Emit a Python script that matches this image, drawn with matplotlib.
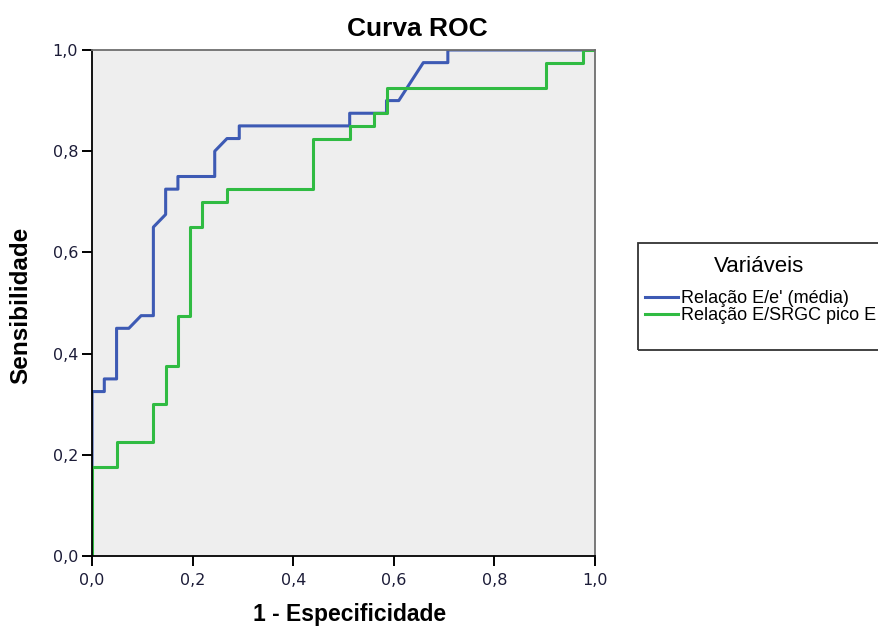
import numpy as np
import matplotlib.pyplot as plt
from matplotlib.patches import Rectangle
from matplotlib.ticker import FuncFormatter

# 41 negatives, 40 positives
n_neg = 41
n_pos = 40

# Relação E/e' (média): (false positives, true positives)
fp_blue = [0, 0, 1, 1, 2, 2, 3, 4, 5, 5, 6, 6, 7, 7, 10, 10, 11, 12, 12,
           21, 21, 24, 24, 25, 27, 29, 29, 41]
tp_blue = [0, 13, 13, 14, 14, 18, 18, 19, 19, 26, 27, 29, 29, 30, 30, 32, 33, 33, 34,
           34, 35, 35, 36, 36, 39, 39, 40, 40]

# Relação E/SRGC pico E
fp_green = [0, 0, 2, 2, 5, 5, 6, 6, 7, 7, 8, 8, 9, 9, 11, 11, 18, 18,
            21, 21, 23, 23, 24, 24, 37, 37, 40, 40, 41]
tp_green = [0, 7, 7, 9, 9, 12, 12, 15, 15, 19, 19, 26, 26, 28, 28, 29, 29, 33,
            33, 34, 34, 35, 35, 37, 37, 39, 39, 40, 40]

labels = ["Relação E/e' (média)", "Relação E/SRGC pico E"]
ticks = [0.0, 0.2, 0.4, 0.6, 0.8, 1.0]

arial = 'Liberation Sans'
W, H = 879, 628

fig = plt.figure(figsize=(8.79, 6.28), dpi=100)
ax = fig.add_axes([0.1047, 0.1146, 0.5723, 0.8058])
ax.set_facecolor('#eeeeee')

ax.plot(np.array(fp_blue) / n_neg, np.array(tp_blue) / n_pos,
        color='#3d5ab4', lw=2.2, label=labels[0])
ax.plot(np.array(fp_green) / n_neg, np.array(tp_green) / n_pos,
        color='#30bb42', lw=2.2, label=labels[1])

ax.set_xlim(0, 1)
ax.set_ylim(0, 1)
ax.set_xticks(ticks)
ax.set_yticks(ticks)
fmt = FuncFormatter(lambda v, p: f"{v:.1f}".replace('.', ','))
ax.xaxis.set_major_formatter(fmt)
ax.yaxis.set_major_formatter(fmt)
ax.tick_params(direction='out', length=7, width=1.4, labelsize=11.5,
               labelcolor='#1c1c38', pad=3)
ax.tick_params(axis='x', pad=5)

for s in ['left', 'bottom']:
    ax.spines[s].set_color('black')
    ax.spines[s].set_linewidth(1.3)
for s in ['top', 'right']:
    ax.spines[s].set_color('#6e6e6e')
    ax.spines[s].set_linewidth(1.3)

fig.text(417 / W, 1 - 29 / H, 'Curva ROC', fontsize=19, fontweight='bold',
         family=arial, ha='center', va='center')
fig.text(350 / W, 1 - 615 / H, '1 - Especificidade', fontsize=16.5,
         fontweight='bold', family=arial, ha='center', va='center')
fig.text(21 / W, 1 - 305 / H, 'Sensibilidade', fontsize=17.5,
         fontweight='bold', family=arial, ha='center', va='center',
         rotation=90)

# legend box, runs off the right edge like the original
fig.patches.append(Rectangle((638 / W, 1 - 350 / H), 250 / W, 107 / H,
                             transform=fig.transFigure, fill=False,
                             edgecolor='#333333', lw=1.3))
fig.text(759 / W, 1 - 266 / H, 'Variáveis', fontsize=16, family=arial,
         ha='center', va='center')
leg = fig.legend(loc='upper left', bbox_to_anchor=(645 / W, 1 - 290 / H),
                 prop={'family': arial, 'size': 13},
                 frameon=False, handlelength=1.8, handletextpad=0.17,
                 borderaxespad=0, borderpad=0, labelspacing=0.0)

fig.savefig('out.png', dpi=100)
